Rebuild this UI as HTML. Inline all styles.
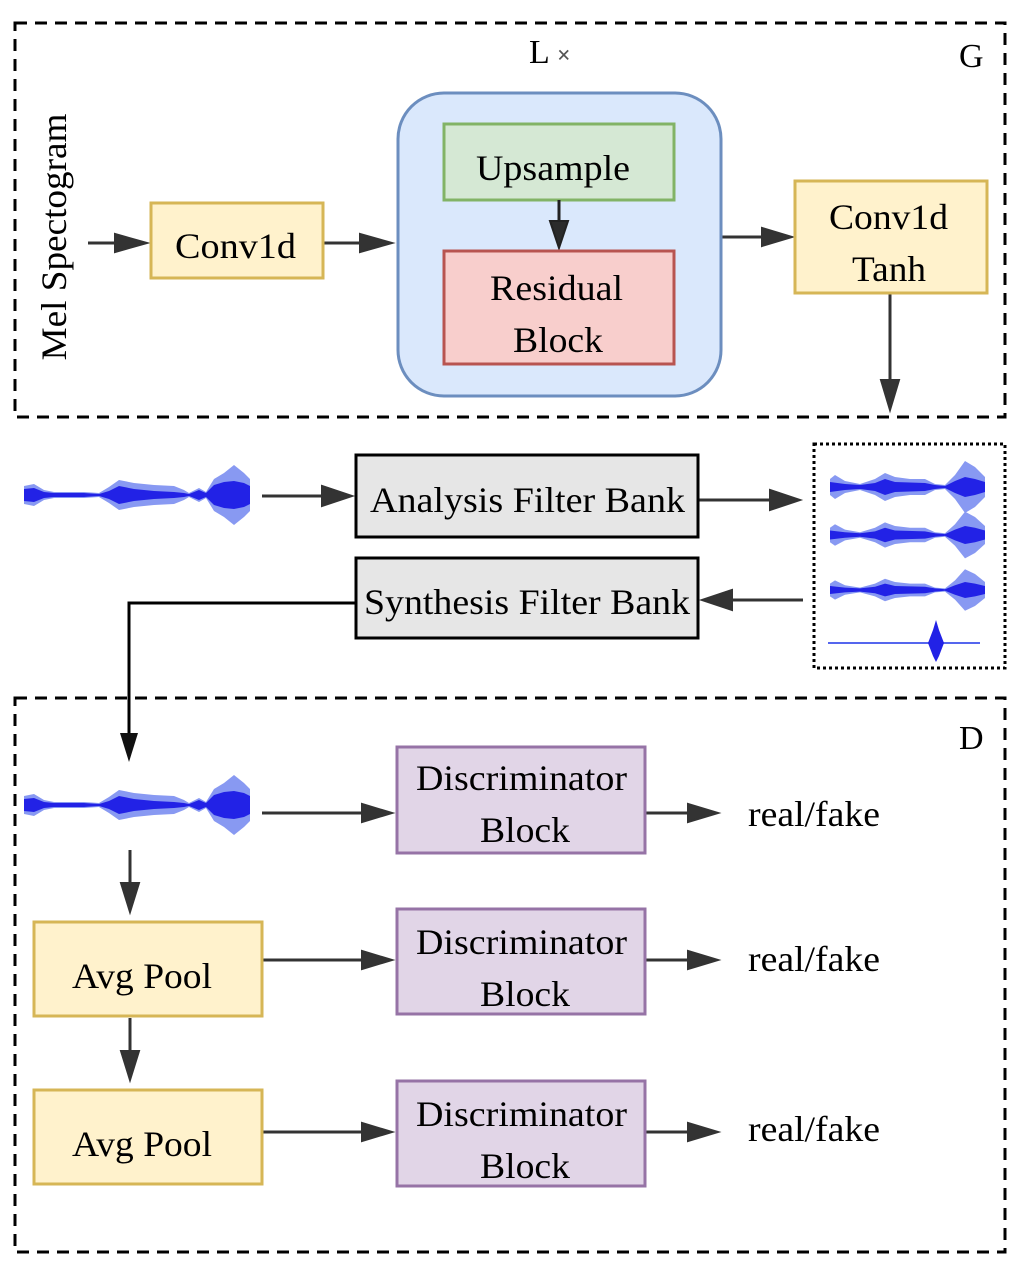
<!DOCTYPE html>
<html><head><meta charset="utf-8"><style>
html,body{margin:0;padding:0;background:#fff}
svg{display:block}
text{font-family:"Liberation Serif",serif;fill:#000}
</style></head><body>
<svg width="1018" height="1270" viewBox="0 0 1018 1270" xmlns="http://www.w3.org/2000/svg">
<defs>
<g id="wu">
<polygon fill="#8899f2" points="0,0 0,-9 10,-11 20,-5 30,-3 60,-3 75,-2 85,-8 95,-15 110,-12 130,-10 150,-9 160,-5 165,-2 175,-7 182,-3 190,-16 200,-22 210,-30 220,-22 226,-16 226,0"/>
<polygon fill="#2222e6" points="0,0 0,-6 10,-7 20,-3 30,-2 60,-2 75,-1 85,-4 95,-9 110,-6 130,-4 150,-3 160,-2 165,-1 175,-5 182,-2 190,-10 200,-13 210,-14 220,-12 226,-9 226,0"/>
</g>
<g id="w"><use href="#wu"/><use href="#wu" transform="scale(1,-1)"/></g>
<g id="su"><polygon fill="#8899f2" points="0,0 0,-8 5,-12 15,-6 30,-3 45,-8 55,-14 65,-10 80,-8 95,-8 105,-3 115,-2 125,-12 135,-26 145,-20 155,-10 155,0"/>
<polygon fill="#2222e6" points="0,0 0,-5 15,-3 30,-2 45,-4 55,-8 65,-5 95,-4 105,-2 115,-1 125,-6 135,-10 145,-8 155,-5 155,0"/></g>
<g id="s"><use href="#su"/><use href="#su" transform="scale(1,-1)"/></g>
</defs>

<rect x="15" y="23" width="990" height="394" fill="none" stroke="#000" stroke-width="3" stroke-dasharray="12,8"/>
<text x="529" y="63" font-size="34">L</text>
<text x="557" y="63" font-size="24" style="fill:#555;font-weight:bold">×</text>
<text x="959" y="67" font-size="34">G</text>
<text transform="translate(66,237) rotate(-90)" font-size="36" text-anchor="middle" textLength="247" lengthAdjust="spacingAndGlyphs">Mel Spectogram</text>

<g stroke="#333" stroke-width="3" fill="#333">
<line x1="88" y1="243" x2="125" y2="243"/><polygon points="115,234 147,243 115,252" stroke-width="2"/>
<line x1="323" y1="243" x2="370" y2="243"/><polygon points="360,234 392,243 360,252" stroke-width="2"/>
<line x1="722" y1="237" x2="770" y2="237"/><polygon points="762,228 792,237 762,246" stroke-width="2"/>
<line x1="890" y1="293" x2="890" y2="385"/><polygon points="881,380 890,410 899,380" stroke-width="2"/>
</g>
<rect x="151" y="203" width="172" height="75" fill="#fff2cc" stroke="#d6b656" stroke-width="3"/>
<text x="175" y="258" font-size="36" textLength="121" lengthAdjust="spacingAndGlyphs">Conv1d</text>
<rect x="398" y="93" width="323" height="303" rx="46" fill="#dae8fc" stroke="#6c8ebf" stroke-width="3"/>
<rect x="444" y="124" width="230" height="76" fill="#d5e8d4" stroke="#82b366" stroke-width="3"/>
<text x="476" y="180" font-size="36" textLength="154" lengthAdjust="spacingAndGlyphs">Upsample</text>
<g stroke="#222" stroke-width="3" fill="#2b2b2b"><line x1="559" y1="200" x2="559" y2="225"/><polygon points="550,221 559,248 568,221" stroke-width="2"/></g>
<rect x="444" y="251" width="230" height="113" fill="#f8cecc" stroke="#b85450" stroke-width="3"/>
<text x="490" y="300" font-size="36" textLength="133" lengthAdjust="spacingAndGlyphs">Residual</text>
<text x="513" y="352" font-size="36" textLength="90" lengthAdjust="spacingAndGlyphs">Block</text>
<rect x="795" y="181" width="192" height="112" fill="#fff2cc" stroke="#d6b656" stroke-width="3"/>
<text x="829" y="229" font-size="36" textLength="119" lengthAdjust="spacingAndGlyphs">Conv1d</text>
<text x="852" y="281" font-size="36" textLength="74" lengthAdjust="spacingAndGlyphs">Tanh</text>

<use href="#w" transform="translate(24,495)"/>
<g stroke="#333" stroke-width="3" fill="#333">
<line x1="262" y1="496" x2="330" y2="496"/><polygon points="322,486 352,496 322,506" stroke-width="2"/>
<line x1="698" y1="500" x2="775" y2="500"/><polygon points="770,490 800,500 770,510" stroke-width="2"/>
<line x1="803" y1="600" x2="728" y2="600"/><polygon points="732,590 702,600 732,610" stroke-width="2"/>
</g>
<rect x="356" y="455" width="342" height="82" fill="#e6e6e6" stroke="#000" stroke-width="3"/>
<text x="370" y="512" font-size="36" textLength="315" lengthAdjust="spacingAndGlyphs">Analysis Filter Bank</text>
<rect x="356" y="558" width="342" height="80" fill="#e6e6e6" stroke="#000" stroke-width="3"/>
<text x="364" y="614" font-size="36" textLength="326" lengthAdjust="spacingAndGlyphs">Synthesis Filter Bank</text>
<rect x="814" y="444" width="191" height="224" fill="none" stroke="#000" stroke-width="3" stroke-dasharray="3,3"/>
<use href="#s" transform="translate(830,487)"/>
<use href="#s" transform="translate(830,535) scale(1,0.9)"/>
<use href="#s" transform="translate(830,590) scale(1,0.8)"/>
<line x1="828" y1="643" x2="980" y2="643" stroke="#5566ee" stroke-width="2"/>
<polygon points="928,643 933,630 936,620 939,630 944,643 939,656 936,662 933,656" fill="#2222e6"/>
<polyline points="355,603 129,603 129,740" fill="none" stroke="#000" stroke-width="3"/>
<polygon points="120,733 129,762 138,733" fill="#111"/>

<rect x="15" y="698" width="990" height="554" fill="none" stroke="#000" stroke-width="3" stroke-dasharray="12,8"/>
<text x="959" y="749" font-size="34">D</text>
<use href="#w" transform="translate(24,805)"/>
<g stroke="#333" stroke-width="3" fill="#333">
<line x1="262" y1="813" x2="370" y2="813"/><polygon points="362,804 392,813 362,822" stroke-width="2"/>
<line x1="645" y1="813" x2="695" y2="813"/><polygon points="688,804 718,813 688,822" stroke-width="2"/>
<line x1="130" y1="850" x2="130" y2="890"/><polygon points="121,883 130,912 139,883" stroke-width="2"/>
<line x1="262" y1="960" x2="370" y2="960"/><polygon points="362,951 392,960 362,969" stroke-width="2"/>
<line x1="645" y1="960" x2="695" y2="960"/><polygon points="688,951 718,960 688,969" stroke-width="2"/>
<line x1="130" y1="1018" x2="130" y2="1058"/><polygon points="121,1051 130,1080 139,1051" stroke-width="2"/>
<line x1="262" y1="1132" x2="370" y2="1132"/><polygon points="362,1123 392,1132 362,1141" stroke-width="2"/>
<line x1="645" y1="1132" x2="695" y2="1132"/><polygon points="688,1123 718,1132 688,1141" stroke-width="2"/>
</g>
<g fill="#e1d5e7" stroke="#9673a6" stroke-width="3">
<rect x="397" y="747" width="248" height="106"/>
<rect x="397" y="909" width="248" height="105"/>
<rect x="397" y="1081" width="248" height="105"/>
</g>
<g fill="#fff2cc" stroke="#d6b656" stroke-width="3">
<rect x="34" y="922" width="228" height="94"/>
<rect x="34" y="1090" width="228" height="94"/>
</g>
<g font-size="36" lengthAdjust="spacingAndGlyphs">
<text x="416" y="790" textLength="211" lengthAdjust="spacingAndGlyphs">Discriminator</text><text x="480" y="842" textLength="90" lengthAdjust="spacingAndGlyphs">Block</text>
<text x="416" y="954" textLength="211" lengthAdjust="spacingAndGlyphs">Discriminator</text><text x="480" y="1006" textLength="90" lengthAdjust="spacingAndGlyphs">Block</text>
<text x="416" y="1126" textLength="211" lengthAdjust="spacingAndGlyphs">Discriminator</text><text x="480" y="1178" textLength="90" lengthAdjust="spacingAndGlyphs">Block</text>
<text x="72" y="988" textLength="140" lengthAdjust="spacingAndGlyphs">Avg Pool</text>
<text x="72" y="1156" textLength="140" lengthAdjust="spacingAndGlyphs">Avg Pool</text>
<text x="748" y="826" textLength="132" lengthAdjust="spacingAndGlyphs">real/fake</text>
<text x="748" y="971" textLength="132" lengthAdjust="spacingAndGlyphs">real/fake</text>
<text x="748" y="1141" textLength="132" lengthAdjust="spacingAndGlyphs">real/fake</text>
</g>
</svg>
</body></html>
